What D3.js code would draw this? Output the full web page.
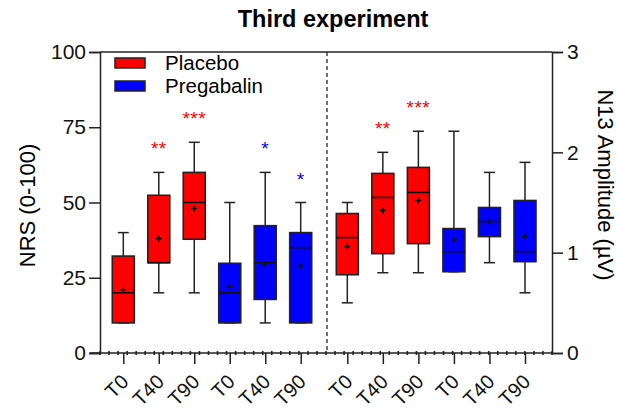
<!DOCTYPE html>
<html lang="en">
<head>
    <meta charset="UTF-8">
    <title>Third experiment</title>
    <style>
        body {
            margin: 0;
            background: #fff;
            font-family: "Liberation Sans", Arial, sans-serif;
        }
    </style>
</head>
<body>
    <div id="chart"></div>

    <script src="https://d3js.org/d3.v7.min.js"></script>
    <script>
        // Tick labels and groups
        const timeLabels = ["T0", "T40", "T90", "T0", "T40", "T90"];
        const treatments = ["Placebo", "Placebo", "Placebo", "Pregabalin", "Pregabalin", "Pregabalin"];

        // NRS (0-100), left half
        const nrsMin = [10, 20, 20, 10, 10, 10];
        const nrsQ1 = [10, 30, 37.8, 10, 17.8, 10];
        const nrsMedian = [20, 30, 50, 20, 30, 35];
        const nrsQ3 = [32.2, 52.4, 60, 29.8, 42.3, 40];
        const nrsMax = [40, 60, 70, 50, 60, 50];
        const nrsMean = [21, 38, 48, 22, 29.6, 29];
        const nrsStars = ["", "**", "***", "", "*", "*"];

        // N13 amplitude (µV), right half
        const n13Min = [0.50, 0.80, 0.80, 0.81, 0.90, 0.60];
        const n13Q1 = [0.78, 0.99, 1.09, 0.81, 1.16, 0.91];
        const n13Median = [1.15, 1.55, 1.60, 1.01, 1.31, 1.01];
        const n13Q3 = [1.39, 1.79, 1.85, 1.24, 1.45, 1.52];
        const n13Max = [1.50, 2.00, 2.21, 2.21, 1.80, 1.90];
        const n13Mean = [1.06, 1.42, 1.52, 1.13, 1.31, 1.16];
        const n13Stars = ["", "**", "***", "", "", ""];

        const nrsTicks = [0, 25, 50, 75, 100];
        const n13Ticks = [0, 1, 2, 3];

        const colors = { "Placebo": "#ff0000", "Pregabalin": "#0000ff" };

        const width = 618, height = 411;
        const plotLeft = 100, plotRight = 552, plotTop = 52, plotBottom = 353;
        const boxW = 22, capW = 11;

        const svg = d3.select("#chart").append("svg")
            .attr("width", width)
            .attr("height", height);

        const yL = d3.scaleLinear().domain([0, 100]).range([plotBottom, plotTop]);
        const yR = d3.scaleLinear().domain([0, 3]).range([plotBottom, plotTop]);
        const idx = d3.range(6);
        const xL = d3.scalePoint().domain(idx).range([123.3, 300.7]);
        const xR = d3.scalePoint().domain(idx).range([347.3, 525]);

        // title
        svg.append("text")
            .attr("x", 333).attr("y", 26.5)
            .attr("text-anchor", "middle")
            .attr("font-size", 23.5).attr("font-weight", "bold")
            .text("Third experiment");

        // top frame line + dashed divider
        svg.append("line")
            .attr("x1", plotLeft).attr("x2", plotRight).attr("y1", plotTop).attr("y2", plotTop)
            .attr("stroke", "#222").attr("stroke-width", 1.5);
        svg.append("line")
            .attr("x1", 327).attr("x2", 327).attr("y1", plotTop).attr("y2", plotBottom)
            .attr("stroke", "#222").attr("stroke-width", 1.3)
            .attr("stroke-dasharray", "4,3");

        // y axes
        const axL = svg.append("g")
            .attr("transform", `translate(${plotLeft},0)`)
            .call(d3.axisLeft(yL).tickValues(nrsTicks).tickSize(11).tickPadding(3));
        const axR = svg.append("g")
            .attr("transform", `translate(${plotRight},0)`)
            .call(d3.axisRight(yR).tickValues(n13Ticks).tickFormat(d3.format("d")).tickSize(11).tickPadding(4));
        [axL, axR].forEach(ax => {
            ax.select(".domain").attr("stroke", "#222").attr("stroke-width", 1.5);
            ax.selectAll(".tick line").attr("stroke", "#222").attr("stroke-width", 1.5);
            ax.selectAll(".tick text")
                .attr("font-family", "Liberation Sans, Arial, sans-serif")
                .attr("font-size", 21).attr("fill", "#111");
        });

        // axis titles
        svg.append("text")
            .attr("transform", `translate(35,${(plotTop + plotBottom) / 2 + 3}) rotate(-90)`)
            .attr("text-anchor", "middle")
            .attr("font-size", 22)
            .text("NRS (0-100)");
        svg.append("text")
            .attr("transform", `translate(598,185) rotate(90)`)
            .attr("text-anchor", "middle")
            .attr("font-size", 22)
            .text("N13 Amplitude (µV)");

        // x axis line with minor dots
        svg.append("line")
            .attr("x1", plotLeft - 10).attr("x2", plotRight).attr("y1", plotBottom).attr("y2", plotBottom)
            .attr("stroke", "#222").attr("stroke-width", 1.5);
        svg.append("g").selectAll("line")
            .data(d3.range(51).map(i => plotLeft + i * (plotRight - plotLeft) / 50))
            .enter().append("line")
            .attr("x1", d => d).attr("x2", d => d)
            .attr("y1", plotBottom - 2).attr("y2", plotBottom + 2)
            .attr("stroke", "#222").attr("stroke-width", 1.6);

        // x axes per half
        [xL, xR].forEach(x => {
            const g = svg.append("g")
                .attr("transform", `translate(0,${plotBottom})`)
                .call(d3.axisBottom(x).tickSize(11).tickFormat(i => timeLabels[i]));
            g.select(".domain").remove();
            g.selectAll(".tick line").attr("stroke", "#222").attr("stroke-width", 1.5);
            g.selectAll(".tick text")
                .attr("font-family", "Liberation Sans, Arial, sans-serif")
                .attr("font-size", 20).attr("fill", "#111")
                .attr("text-anchor", "end")
                .attr("dy", 0).attr("y", 0)
                .attr("transform", "translate(6,30) rotate(-45)");
        });

        // box plots
        function drawBoxes(x, y, mins, q1s, meds, q3s, maxs, means, stars) {
            const g = svg.append("g");
            idx.forEach(i => {
                const cx = x(i);
                const col = colors[treatments[i]];
                // whiskers
                g.append("line")
                    .attr("x1", cx).attr("x2", cx).attr("y1", y(maxs[i])).attr("y2", y(q3s[i]))
                    .attr("stroke", "#222").attr("stroke-width", 1.5);
                g.append("line")
                    .attr("x1", cx).attr("x2", cx).attr("y1", y(q1s[i])).attr("y2", y(mins[i]))
                    .attr("stroke", "#222").attr("stroke-width", 1.5);
                [maxs[i], mins[i]].forEach(v => {
                    g.append("line")
                        .attr("x1", cx - capW / 2).attr("x2", cx + capW / 2)
                        .attr("y1", y(v)).attr("y2", y(v))
                        .attr("stroke", "#222").attr("stroke-width", 1.5);
                });
                // box
                g.append("rect")
                    .attr("x", cx - boxW / 2).attr("width", boxW)
                    .attr("y", y(q3s[i])).attr("height", y(q1s[i]) - y(q3s[i]))
                    .attr("fill", col).attr("stroke", "#222").attr("stroke-width", 1.6);
                g.append("line")
                    .attr("x1", cx - boxW / 2).attr("x2", cx + boxW / 2)
                    .attr("y1", y(meds[i])).attr("y2", y(meds[i]))
                    .attr("stroke", "#111").attr("stroke-width", 1.6);
                // mean marker
                const my = y(means[i]);
                g.append("path")
                    .attr("d", `M${cx - 3},${my}H${cx + 3}M${cx},${my - 3}V${my + 3}`)
                    .attr("stroke", "#111").attr("stroke-width", 1.6);
                // significance
                if (stars[i]) {
                    g.append("text")
                        .attr("x", cx).attr("y", y(maxs[i]) - 17)
                        .attr("text-anchor", "middle")
                        .attr("font-size", 19)
                        .attr("letter-spacing", 0.5)
                        .attr("fill", col)
                        .text(stars[i]);
                }
            });
        }

        drawBoxes(xL, yL, nrsMin, nrsQ1, nrsMedian, nrsQ3, nrsMax, nrsMean, nrsStars);
        drawBoxes(xR, yR, n13Min, n13Q1, n13Median, n13Q3, n13Max, n13Mean, n13Stars);

        // legend
        const legend = svg.append("g");
        ["Placebo", "Pregabalin"].forEach((t, i) => {
            legend.append("rect")
                .attr("x", 115).attr("y", 58 + i * 23)
                .attr("width", 30).attr("height", 10)
                .attr("fill", colors[t]).attr("stroke", "#222").attr("stroke-width", 1.5);
            legend.append("text")
                .attr("x", 165).attr("y", 70 + i * 22.5)
                .attr("font-size", 20.5)
                .text(t);
        });
    </script>
</body>
</html>
